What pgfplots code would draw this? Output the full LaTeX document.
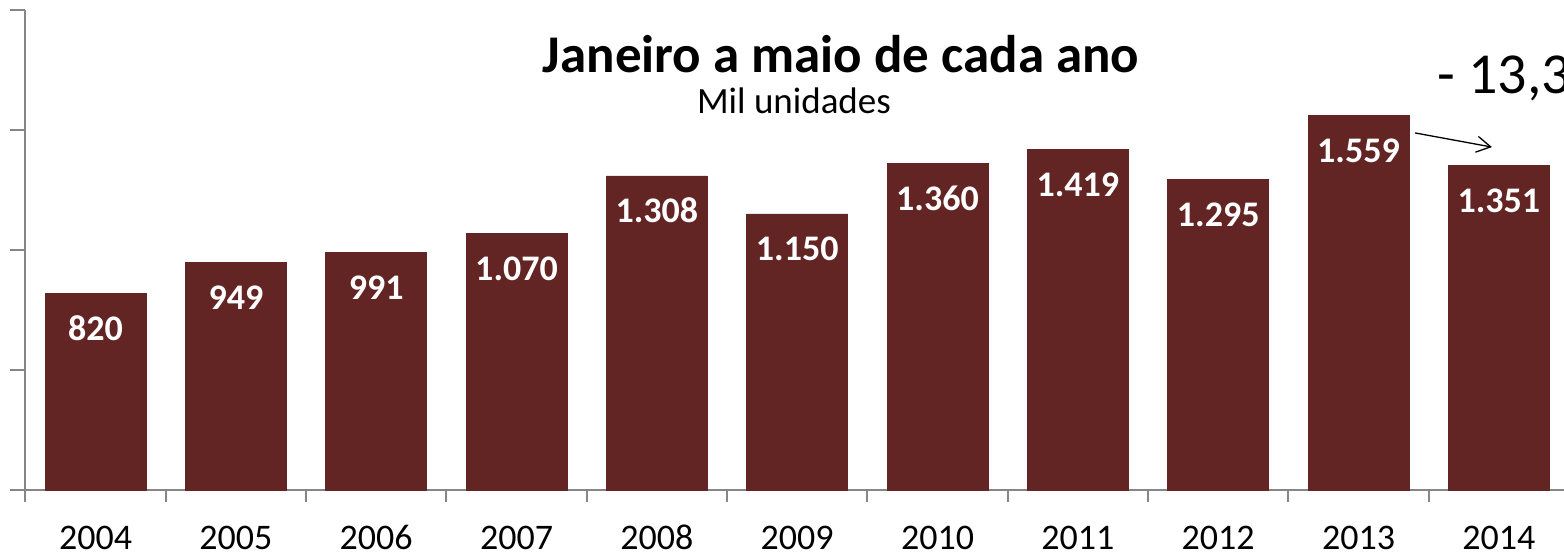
\documentclass[border=0pt]{standalone}
\usepackage{pgfplots}
\pgfplotsset{compat=1.18}
\usepackage{pgfplotstable}
\usepackage{fontspec}
\setmainfont{Carlito}
\usetikzlibrary{arrows.meta}
\definecolor{barc}{RGB}{99,37,36}
\definecolor{axc}{RGB}{134,134,134}

\pgfplotstableread{
x y label
0 820 820
1 949 949
2 991 991
3 1070 1.070
4 1308 1.308
5 1150 1.150
6 1360 1.360
7 1419 1.419
8 1295 1.295
9 1559 1.559
10 1351 1.351
}\data

\begin{document}
\begin{tikzpicture}
\begin{axis}[
  scale only axis, width=771.8pt, height=240.15pt,
  xmin=-0.5, xmax=10.5, ymin=0, ymax=2000,
  axis lines*=left,
  axis line style={axc, line width=1pt},
  every tick/.style={axc, line width=1pt},
  tick align=outside,
  xtick={0,...,10},
  xticklabels={2004,2005,2006,2007,2008,2009,2010,2011,2012,2013,2014},
  major x tick style={draw=none},
  minor xtick={-0.5,0.5,...,10.5},
  major tick length=7.5pt,
  minor tick length=6pt,
  ytick={0,500,...,2000}, yticklabels={},
  xticklabel style={font=\fontsize{18}{18}\selectfont, anchor=base, yshift=-22pt, text=black},
  xticklabel shift=0pt,
  ybar, bar width=0.72,
  clip=false,
  point meta=explicit symbolic,
  nodes near coords,
  every node near coord/.append style={font=\bfseries\fontsize{18}{18}\selectfont, text=white, anchor=base, yshift=-23.5pt},
]
\addplot[fill=barc, draw=barc, line width=0.3pt] table[x=x, y=y, meta=label] {\data};
\node[anchor=base, font=\bfseries\fontsize{26.5}{26.5}\selectfont] at (axis cs:5.312,1740) {Janeiro a maio de cada ano};
\node[anchor=base, font=\fontsize{18.5}{18.5}\selectfont] at (axis cs:4.977,1566) {Mil unidades};
\node[anchor=base west, inner sep=0pt, font=\fontsize{29}{29}\selectfont] at (axis cs:9.56,1653) {- 13,3\%};
\draw[-{Straight Barb[length=7pt,width=8pt]}, black, line width=0.65pt] (axis cs:9.402,1487) -- (axis cs:9.951,1428);
\end{axis}
\pgfresetboundingbox
\useasboundingbox (-12.7pt,-32pt) rectangle (769.3pt,245pt);
\end{tikzpicture}
\end{document}
